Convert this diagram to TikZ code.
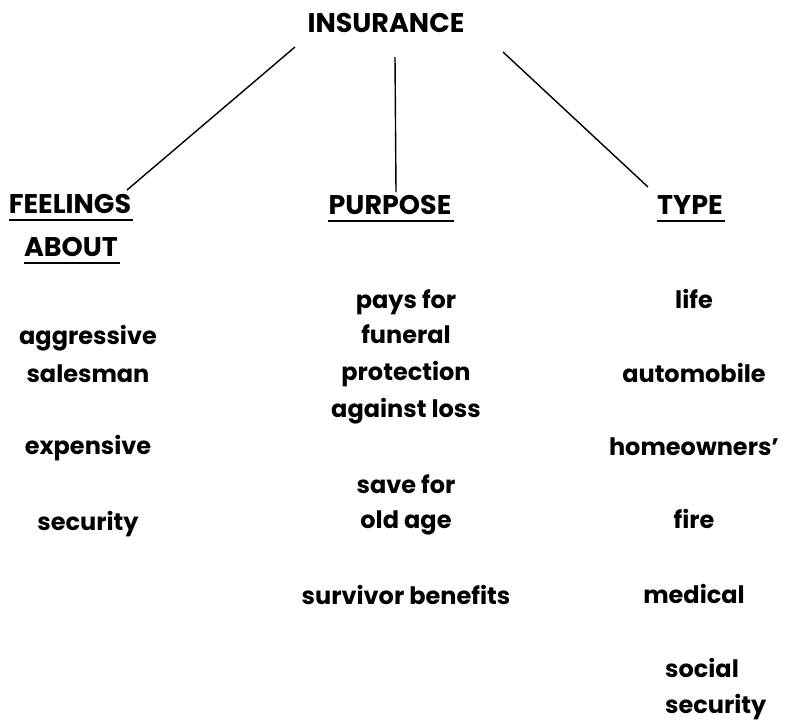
\documentclass[tikz,border=0pt]{standalone}
\usepackage{fontspec}
\setmainfont{Poppins}

\tikzset{
  head/.style={font=\fontsize{27}{30}\selectfont\bfseries, inner sep=0pt, anchor=base},
  item/.style={font=\fontsize{24}{30}\selectfont\bfseries, inner sep=0pt, anchor=base},
  branch/.style={line width=1.4pt},
  bar/.style={line width=1.8pt}
}

\begin{document}
\begin{tikzpicture}[x=1pt,y=-1pt]
        \useasboundingbox (0,0) rectangle (790,721);
        % headings
        \node[head] (ins) at (386,32) {INSURANCE};
        \node[head] (feel) at (70,213) {FEELINGS};
        \node[head] (about) at (71,256) {ABOUT};
        \node[head] (purp) at (390,214) {PURPOSE};
        \node[head] (type) at (690,214) {TYPE};
        \foreach \n in {feel, about, purp, type} {
          \draw[bar] ([yshift=-7pt]\n.base west) -- ([yshift=-7pt,xshift=2pt]\n.base east);
        }
        % branches
        \draw[branch] ([shift={(-91,15)}]ins.base) -- ([shift={(57,-23)}]feel.base);
        \draw[branch] ([shift={(9,25)}]ins.base) -- ([shift={(6,-22)}]purp.base);
        \draw[branch] ([shift={(117,20)}]ins.base) -- ([shift={(-42,-27)}]type.base);
        % feelings about
        \foreach \y/\t/\n in {344/aggressive/f1, 382/salesman/f2, 454/expensive/f3, 530/security/f4} {
          \node[item] (\n) at (88,\y) {\t};
        }
        % purpose
        \foreach \y/\t/\n in {308/pays for/p1, 343/funeral/p2, 380/protection/p3,
            417/against loss/p4, 493/save for/p5, 528/old age/p6, 604/survivor benefits/p7} {
          \node[item] (\n) at (406,\y) {\t};
        }
        % type
        \foreach \y/\t/\n in {308/life/t1, 382/automobile/t2, 455/homeowners'/t3,
            528/fire/t4, 603/medical/t5} {
          \node[item] (\n) at (694,\y) {\t};
        }
        \node[item, anchor=base west] (t6) at (665,677) {social};
        \node[item, anchor=base west] (t7) at (665,713) {security};
      \end{tikzpicture}
\end{document}
